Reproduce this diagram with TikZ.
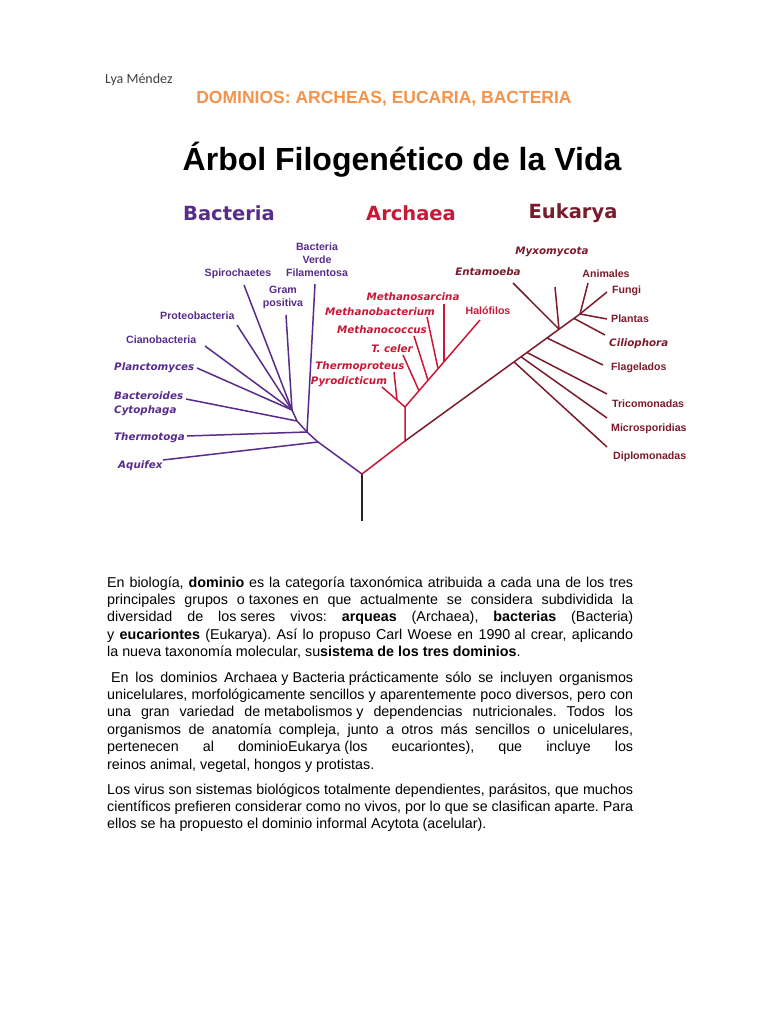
\documentclass[tikz,border=0pt]{standalone}
\usepackage{fontspec}
\setmainfont{Liberation Sans}
\newfontfamily\vfont{DejaVu Sans}[BoldFont={DejaVu Sans Bold}, BoldItalicFont={DejaVu Sans Bold Oblique}]
\newfontfamily\cfont{Carlito}
\usetikzlibrary{positioning}
\definecolor{bac}{RGB}{88,44,140}
\definecolor{arc}{RGB}{200,24,54}
\definecolor{euk}{RGB}{122,28,44}
\definecolor{orng}{RGB}{244,148,76}
\newcommand{\fsp}{\hspace{0.278em}}
\frenchspacing

\begin{document}
\begin{tikzpicture}[x=1pt, y=-1pt,
  lbl/.style={font=\fontsize{10.6}{12.8}\selectfont\bfseries, inner sep=0pt},
  ilbl/.style={font=\vfont\fontsize{10.3}{14.5}\selectfont\bfseries\itshape, inner sep=0pt},
  dom/.style={font=\vfont\fontsize{19.5}{22}\selectfont\bfseries, inner sep=0pt},
  br/.style={line width=1.5pt},
  txt/.style={font=\fontsize{14.3}{17.4}\selectfont, text width=526pt, align=justify, inner sep=0pt, anchor=base west,
    execute at begin node={\tolerance=10000\relax\hyphenpenalty=10000\relax\frenchspacing}}
]
  \fill[white] (0,0) rectangle (768,1024);
  \useasboundingbox (0,0) rectangle (768,1024);

  \node[font=\cfont\fontsize{14}{16}\selectfont, text=black!75, anchor=west, inner sep=0pt] (autor) at (105,80) {Lya Méndez};
  \node[font=\fontsize{17.5}{20}\selectfont\bfseries, text=orng, inner sep=0pt] (sub) at (384,99) {DOMINIOS: ARCHEAS, EUCARIA, BACTERIA};
  \node[font=\fontsize{32}{36}\selectfont\bfseries, inner sep=0pt] (titulo) at (402,160) {Árbol Filogenético de la Vida};

  \node[dom, bac] (hbac) at (229,213) {Bacteria};
  \node[dom, arc] (harc) at (411,213) {Archaea};
  \node[dom, euk] (heuk) at (573,213) {Eukarya};

  \node[lbl, bac, align=center] (verde) at (317,260) {Bacteria\\Verde\\Filamentosa};
  \node[lbl, bac] (spiro) at (238,274) {Spirochaetes};
  \node[lbl, bac, align=center] (gram) at (283,297) {Gram\\positiva};
  \node[lbl, bac, anchor=west] (proteo) at (160,316) {Proteobacteria};
  \node[lbl, bac, anchor=west] (ciano) at (126,340) {Cianobacteria};
  \node[ilbl, bac, anchor=west] (planc) at (114,368) {Planctomyces};
  \node[ilbl, bac, anchor=west, align=left] (bactero) at (114,403.5) {Bacteroides\\Cytophaga};
  \node[ilbl, bac, anchor=west] (thermo) at (114,438) {Thermotoga};
  \node[ilbl, bac, anchor=west] (aquif) at (118,466) {Aquifex};

  \node[ilbl, arc] (msar) at (413,297) {Methanosarcina};
  \node[ilbl, arc] (mbac) at (380,312) {Methanobacterium};
  \node[ilbl, arc] (mcoc) at (382,330) {Methanococcus};
  \node[ilbl, arc] (tcel) at (392,349) {T. celer};
  \node[ilbl, arc] (tpro) at (360,367) {Thermoproteus};
  \node[ilbl, arc] (pyro) at (349,382) {Pyrodicticum};
  \node[lbl, arc] (halo) at (488,311) {Halófilos};

  \node[ilbl, euk] (myxo) at (552,252) {Myxomycota};
  \node[ilbl, euk] (entam) at (488,272) {Entamoeba};
  \node[lbl, euk] (anim) at (606,274) {Animales};
  \node[lbl, euk, anchor=west] (fungi) at (612,291) {Fungi};
  \node[lbl, euk, anchor=west] (plant) at (611,319) {Plantas};
  \node[ilbl, euk, anchor=west] (cilio) at (609,344) {Ciliophora};
  \node[lbl, euk, anchor=west] (flag) at (611,368) {Flagelados};
  \node[lbl, euk, anchor=west] (trico) at (612,404) {Tricomonadas};
  \node[lbl, euk, anchor=west] (micro) at (611,429) {Microsporidias};
  \node[lbl, euk, anchor=west] (diplo) at (613,457) {Diplomonadas};

  \coordinate (root) at (362,474);
  \coordinate (foot) at (362,521);
  \coordinate (b1) at (318,442);
  \coordinate (b2) at (307,432);
  \coordinate (b3) at (297,421);
  \coordinate (b4) at (292,410);
  \coordinate (tverde) at (315,284);
  \coordinate (tspiro) at (244,285);
  \coordinate (tgram) at (286,315);
  \coordinate (tproteo) at (237,325);
  \coordinate (tciano) at (205,346);
  \coordinate (tplanc) at (197,368);
  \coordinate (tbactero) at (186,399);
  \coordinate (tthermo) at (187,436);
  \coordinate (taquif) at (163,460);

  \coordinate (a1) at (405,441);
  \coordinate (a2) at (405,407);
  \coordinate (apl) at (397,400);
  \coordinate (ja1) at (419,390.8);
  \coordinate (ja2) at (428,380.3);
  \coordinate (ja3) at (438,368.7);
  \coordinate (ja4) at (444,361.8);
  \coordinate (tpyro) at (382,387);
  \coordinate (ttpro) at (394,372);
  \coordinate (ttcel) at (403,355);
  \coordinate (tmcoc) at (414,336);
  \coordinate (tmbac) at (427,317);
  \coordinate (tmsar) at (444,304);
  \coordinate (thalo) at (480,320);

  \coordinate (etop) at (580,314);
  \coordinate (edip) at (514,361.9);
  \coordinate (emic) at (521,356.8);
  \coordinate (etri) at (527,352.5);
  \coordinate (efla) at (547,338);
  \coordinate (eent) at (559,329.2);
  \coordinate (ecil) at (574,318.4);
  \coordinate (tent) at (513,283);
  \coordinate (tmyx) at (555,287);
  \coordinate (tani) at (588,283);
  \coordinate (tfun) at (607,292);
  \coordinate (tpla) at (607,319);
  \coordinate (tcil) at (605,335);
  \coordinate (tfla) at (603,365);
  \coordinate (ttri) at (607,394);
  \coordinate (tmic) at (607,418);
  \coordinate (tdip) at (607,447);

  \draw[br, black!85] (root) -- (foot);

  \draw[br, bac] (root) -- (b1) -- (b2) -- (b3) -- (b4);
  \draw[br, bac] (b1) -- (taquif);
  \draw[br, bac] (b2) -- (tthermo);
  \draw[br, bac] (b2) -- (tverde);
  \draw[br, bac] (b3) -- (tbactero);
  \draw[br, bac] (b4) -- (tplanc);
  \draw[br, bac] (b4) -- (tciano);
  \draw[br, bac] (b4) -- (tproteo);
  \draw[br, bac] (b4) -- (tspiro);
  \draw[br, bac] (b4) -- (tgram);

  \draw[br, arc] (root) -- (a1) -- (a2);
  \draw[br, arc] (a2) -- (apl) -- (tpyro);
  \draw[br, arc] (apl) -- (ttpro);
  \draw[br, arc] (a2) -- (thalo);
  \draw[br, arc] (ja1) -- (ttcel);
  \draw[br, arc] (ja2) -- (tmcoc);
  \draw[br, arc] (ja3) -- (tmbac);
  \draw[br, arc] (ja4) -- (tmsar);

  \draw[br, euk] (a1) -- (etop);
  \draw[br, euk] (edip) -- (tdip);
  \draw[br, euk] (emic) -- (tmic);
  \draw[br, euk] (etri) -- (ttri);
  \draw[br, euk] (efla) -- (tfla);
  \draw[br, euk] (eent) -- (tent);
  \draw[br, euk] (eent) -- (tmyx);
  \draw[br, euk] (ecil) -- (tcil);
  \draw[br, euk] (etop) -- (tani);
  \draw[br, euk] (etop) -- (tfun);
  \draw[br, euk] (etop) -- (tpla);

  \node[txt] (p1) at (107,587) {En biología, \textbf{dominio} es la categoría taxonómica atribuida a cada una de los tres\linebreak
    principales grupos o\fsp taxones\fsp en que actualmente se considera subdividida la\linebreak
    diversidad de los\fsp seres vivos: \textbf{arqueas} (Archaea), \textbf{bacterias} (Bacteria)\linebreak
    y \textbf{eucariontes} (Eukarya). Así lo propuso Carl Woese en 1990\fsp al crear, aplicando\linebreak
    la nueva taxonomía molecular, su\textbf{sistema de los tres dominios}.};
  \node[txt] (p2) at (107,682) {\fsp En los dominios Archaea\fsp y\fsp Bacteria\fsp prácticamente sólo se incluyen organismos\linebreak
    unicelulares, morfológicamente sencillos y aparentemente poco diversos, pero con\linebreak
    una gran variedad de\fsp metabolismos\fsp y dependencias nutricionales. Todos los\linebreak
    organismos de anatomía compleja, junto a otros más sencillos o unicelulares,\linebreak
    pertenecen al dominioEukarya\fsp (los eucariontes), que incluye los\linebreak
    reinos animal, vegetal, hongos y protistas.};
  \node[txt] (p3) at (107,794) {Los virus son sistemas biológicos totalmente dependientes, parásitos, que muchos\linebreak
    científicos prefieren considerar como no vivos, por lo que se clasifican aparte. Para\linebreak
    ellos se ha propuesto el dominio informal Acytota (acelular).};
\end{tikzpicture}
\end{document}
